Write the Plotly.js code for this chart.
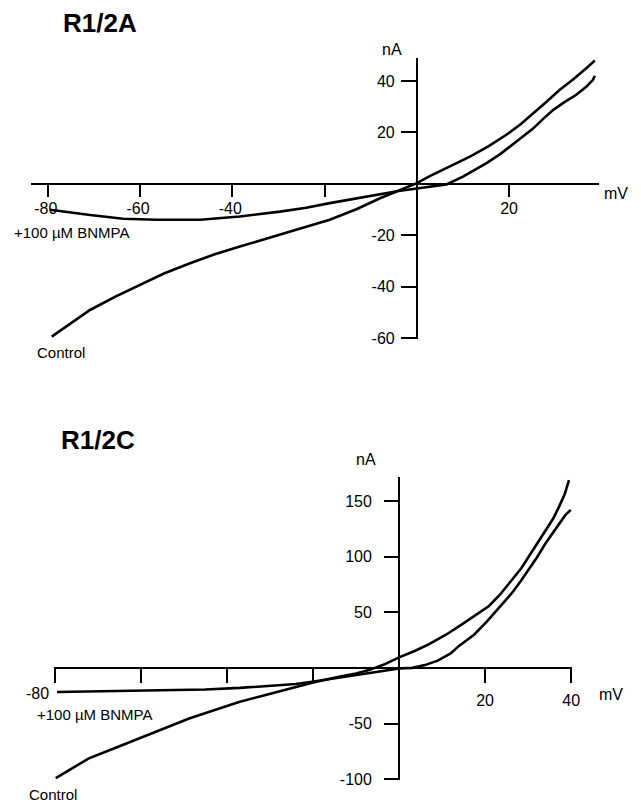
<!DOCTYPE html>
<html>
<head>
<meta charset="utf-8">
<script src="https://cdn.plot.ly/plotly-3.0.1.min.js"></script>
<style>html,body{margin:0;padding:0;background:#fff;}#chart{width:641px;height:804px;}</style>
</head>
<body>
<div id="chart"></div>
<script>
// ---- Panel R1/2A data (mV, nA) ----
const aControlV = [-79.2,-75,-70.9,-65.5,-60.1,-55,-49.2,-44,-38.4,-33.3,-26,-18.9,-13,-8,-4,0,2.8,7,11.5,15.5,19.4,22.5,25.2,28,31,34,36.8,38.6];
const aControlI = [-59.5,-54.3,-49.1,-44.0,-39.4,-35.0,-30.9,-27.5,-24.4,-21.8,-17.8,-14.0,-9.8,-5.6,-2.6,0.3,3.0,6.6,10.6,14.6,19.1,23.2,27.6,31.8,36.6,40.8,45.1,48.0];
const aBnmpaV = [-79.6,-75,-70.9,-63.7,-56.5,-47,-42,-38.4,-29.7,-24,-18.9,-13,-8,-4,0,3,6.4,10,12.5,15.1,18,20.2,22.3,25.2,27.5,29.6,32,34.5,36.8,37.9,38.2,38.6];
const aBnmpaI = [-10.1,-11.2,-12.1,-13.6,-14.0,-14.0,-13.3,-12.7,-10.8,-9.3,-7.5,-5.6,-3.8,-2.8,-1.8,-1.0,-0.2,2.8,5.3,8.1,11.5,14.5,17.2,21.5,25.5,28.8,31.8,34.6,37.9,39.9,40.5,42.1];

// ---- Panel R1/2C data (mV, nA) ----
const cControlV = [-79.8,-76,-72.1,-66,-60.5,-55,-48.8,-43,-37.2,-31,-25.6,-20.2,-14,-10,-7,-3.5,0,3.5,7,11,14.7,17.5,20.9,23.5,26.3,28.5,30.2,32,34.1,35.8,37.2,38.5,39.5];
const cControlI = [-99.1,-90,-81.3,-72,-63.4,-54.5,-45.5,-38,-30.6,-24.3,-18.8,-13.4,-8,-5,-2,3,9.5,15,21.4,30,39.3,47,55.6,66,79.5,90,100.3,111,124.1,134,144.9,156,168.8];
const cBnmpaV = [-79.5,-70,-60.5,-53,-45,-37,-29.5,-24,-20.2,-15,-10,-5,0,3.1,6,9,12,14,17.5,20.5,23,24.8,26.3,28.3,30.2,32,34.1,35.7,37.2,38.6,39.9];
const cBnmpaI = [-21.7,-21.2,-20.8,-20.0,-19.4,-18.0,-16.3,-14.5,-12.5,-9.5,-6.5,-3.5,-0.5,0,2.5,6.5,13,20,30,42,53,61.6,67.6,78,88.4,99,112.2,121,130.1,137,142];

// ---- Axis ticks ----
const aXTickVals = [-80,-60,-40,-20,20];
const aXTickText = ['-80\u00a0','-60\u00a0','-40\u00a0','','20'];
const aYTickVals = [40,20,-20,-40,-60];
const aYTickText = ['40','20','-20','-40','-60'];
const cXTickVals = [-80,-60,-40,-20,20,40];
const cXTickText = ['','','','','20','40'];
const cYTickVals = [150,100,50,-50,-100];
const cYTickText = ['150','100','50','-50','-100'];

const W = 641, H = 804;
const px = x => x / W;
const py = y => 1 - y / H;
const FONT = 'Liberation Sans, Arial, Helvetica, sans-serif';

const lineStyle = {color: '#000', width: 2.6};
const traces = [
  {x: aControlV, y: aControlI, xaxis: 'x', yaxis: 'y', mode: 'lines', line: lineStyle, name: 'Control'},
  {x: aBnmpaV, y: aBnmpaI, xaxis: 'x', yaxis: 'y', mode: 'lines', line: lineStyle, name: '+100 µM BNMPA'},
  {x: cControlV, y: cControlI, xaxis: 'x2', yaxis: 'y2', mode: 'lines', line: lineStyle, name: 'Control'},
  {x: cBnmpaV, y: cBnmpaI, xaxis: 'x2', yaxis: 'y2', mode: 'lines', line: lineStyle, name: '+100 µM BNMPA'}
];

// domains in paper coordinates (from pixel frame)
const aXDom = [px(31), px(599)], aYDom = [py(339), py(58)];
const cXDom = [px(54), px(572)], cYDom = [py(779.5), py(476.5)];
const aXRange = [-83.7, 39.5], aYRange = [-60.4, 49];
const cXRange = [-80.2, 40.2], cYRange = [-100.3, 172];

function zeroPos(dom, range) { return dom[0] + (0 - range[0]) / (range[1] - range[0]) * (dom[1] - dom[0]); }

const baseAxis = {
  showgrid: false, zeroline: false, showline: true, linecolor: '#000', linewidth: 2,
  ticks: 'outside', tickcolor: '#000', tickwidth: 2, tickmode: 'array',
  tickfont: {family: FONT, size: 16, color: '#000'}, fixedrange: true, anchor: 'free'
};

const layout = {
  width: W, height: H, margin: {l: 0, r: 0, t: 0, b: 0},
  paper_bgcolor: '#fff', plot_bgcolor: 'rgba(0,0,0,0)', showlegend: false,
  xaxis: Object.assign({}, baseAxis, {domain: aXDom, range: aXRange, position: zeroPos(aYDom, aYRange),
    tickvals: aXTickVals, ticktext: aXTickText, ticklen: 12, ticklabelstandoff: -2}),
  yaxis: Object.assign({}, baseAxis, {domain: aYDom, range: aYRange, position: zeroPos(aXDom, aXRange),
    tickvals: aYTickVals, ticktext: aYTickText, ticklen: 15, ticklabelstandoff: 3}),
  xaxis2: Object.assign({}, baseAxis, {domain: cXDom, range: cXRange, position: zeroPos(cYDom, cYRange),
    tickvals: cXTickVals, ticktext: cXTickText, ticklen: 14, ticklabelstandoff: 4}),
  yaxis2: Object.assign({}, baseAxis, {domain: cYDom, range: cYRange, position: zeroPos(cXDom, cXRange),
    tickvals: cYTickVals, ticktext: cYTickText, ticklen: 14, ticklabelstandoff: 9}),
  annotations: [
    {text: '<b>R1/2A</b>', x: px(61), y: py(23), xanchor: 'left', yanchor: 'middle', font: {family: FONT, size: 26, color: '#000'}},
    {text: '<b>R1/2C</b>', x: px(59), y: py(440), xanchor: 'left', yanchor: 'middle', font: {family: FONT, size: 26, color: '#000'}},
    {text: 'nA', x: px(392), y: py(50), xanchor: 'center', yanchor: 'middle', font: {family: FONT, size: 16, color: '#000'}},
    {text: 'mV', x: px(615.5), y: py(193), xanchor: 'center', yanchor: 'middle', font: {family: FONT, size: 16, color: '#000'}},
    {text: 'nA', x: px(365.5), y: py(459), xanchor: 'center', yanchor: 'middle', font: {family: FONT, size: 16, color: '#000'}},
    {text: 'mV', x: px(610.5), y: py(694), xanchor: 'center', yanchor: 'middle', font: {family: FONT, size: 16, color: '#000'}},
    {text: '-80', x: px(51), y: py(693), xanchor: 'right', yanchor: 'middle', font: {family: FONT, size: 16, color: '#000'}},
    {text: '+100 µM BNMPA', x: px(12), y: py(232.5), xanchor: 'left', yanchor: 'middle', font: {family: FONT, size: 15, color: '#000'}},
    {text: 'Control', x: px(35), y: py(352.5), xanchor: 'left', yanchor: 'middle', font: {family: FONT, size: 15, color: '#000'}},
    {text: '+100 µM BNMPA', x: px(35), y: py(714), xanchor: 'left', yanchor: 'middle', font: {family: FONT, size: 15, color: '#000'}},
    {text: 'Control', x: px(28), y: py(794), xanchor: 'left', yanchor: 'middle', borderpad: 0, font: {family: FONT, size: 15, color: '#000'}}
  ].map(a => Object.assign({xref: 'paper', yref: 'paper', showarrow: false}, a))
};

Plotly.newPlot('chart', traces, layout, {displayModeBar: false, staticPlot: true});
</script>
</body>
</html>
